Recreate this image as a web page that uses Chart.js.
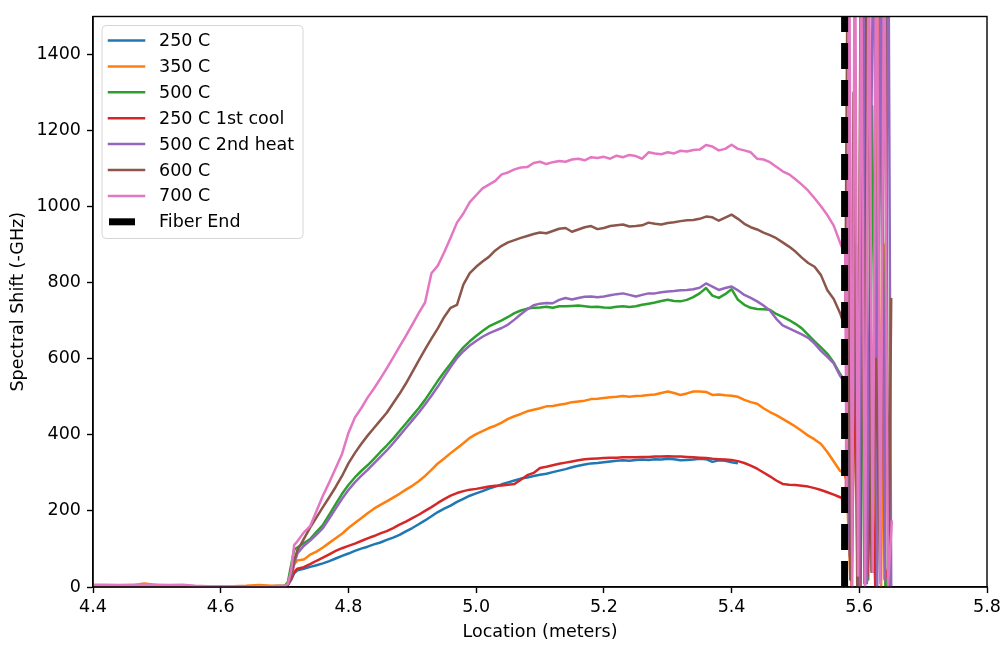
<!DOCTYPE html>
<html lang="en">
<head>
  <meta charset="UTF-8" />
  <title>Spectral Shift vs Location</title>
  <script src="https://cdn.jsdelivr.net/npm/chart.js"></script>
  <style>
    body { margin: 0; background: #fff; }
    canvas { display: block; }
  </style>
</head>
<body>
  <canvas id="shiftChart" width="1006" height="647"></canvas>

<script>
  // fiber location (m)
  const loc = [4.40, 4.42, 4.44, 4.46, 4.48, 4.50, 4.52, 4.54, 4.56, 4.58, 4.60, 4.62, 4.64, 4.66, 4.68, 4.70, 4.705, 4.71, 4.715,
    4.72, 4.73, 4.74, 4.75, 4.76, 4.77, 4.78, 4.79,
    4.80, 4.81, 4.82, 4.83, 4.84, 4.85, 4.86, 4.87, 4.88, 4.89,
    4.90, 4.91, 4.92, 4.93, 4.94, 4.95, 4.96, 4.97, 4.98, 4.99,
    5.00, 5.01, 5.02, 5.03, 5.04, 5.05, 5.06, 5.07, 5.08, 5.09,
    5.10, 5.11, 5.12, 5.13, 5.14, 5.15, 5.16, 5.17, 5.18, 5.19,
    5.20, 5.21, 5.22, 5.23, 5.24, 5.25, 5.26, 5.27, 5.28, 5.29,
    5.30, 5.31, 5.32, 5.33, 5.34, 5.35, 5.36, 5.37, 5.38, 5.39,
    5.40, 5.41, 5.42, 5.43, 5.44, 5.45, 5.46, 5.47, 5.48, 5.49,
    5.50, 5.51, 5.52, 5.53, 5.54, 5.55, 5.56, 5.57, 5.576];

  const s250 = [2, 2, 1, 2, 2, 2, 1, 2, 1, 1, 1, 1, 1, 2, 2, 2, 5, 18, 36,
    44, 48, 53, 57, 62, 68, 75, 82,
    88, 95, 101, 106, 112, 117, 124, 130, 137, 146,
    155, 165, 175, 186, 197, 206, 214, 224, 232, 240,
    246, 252, 259, 264, 270, 275, 280, 285, 288, 292,
    295, 298, 302, 306, 310, 315, 319, 322, 325, 326,
    328, 330, 332, 333, 332, 334, 335, 334, 336, 335,
    337, 336, 333, 334, 335, 337, 336, 329, 333, 332,
    328, 325, null, null, null, null, null, null, null, null,
    null, null, null, null, null, null, null, null, null];

  const s350 = [3, 2, 3, 4, 9, 5, 3, 2, 2, 1, 1, 2, 3, 5, 3, 4, 6, 25, 60,
    70, 72, 85, 93, 104, 116, 128, 140,
    155, 168, 181, 194, 206, 216, 225, 235, 245, 256,
    266, 278, 292, 308, 325, 338, 352, 365, 378, 392,
    402, 410, 418, 424, 432, 442, 449, 455, 462, 466,
    470, 475, 476, 479, 482, 486, 488, 490, 494, 495,
    497, 499, 500, 502, 500, 502, 503, 505, 506, 510,
    514, 510, 505, 509, 514, 514, 513, 505, 506, 504,
    503, 500, 492, 486, 482, 470, 460, 452, 442, 432,
    422, 410, 398, 388, 376, 355, 330, 305, 300];

  const s500 = [2, 2, 1, 2, 2, 2, 2, 2, 1, 1, 1, 1, 1, 2, 2, 3, 12, 55, 98,
    104, 115, 126, 145, 163, 190, 218, 245,
    268, 288, 305, 320, 337, 355, 372, 390, 410, 430,
    450, 470, 492, 517, 542, 565, 587, 610, 630, 646,
    660, 673, 685, 693, 701, 710, 720, 727, 732, 734,
    735, 737, 734, 738, 738, 739, 740, 738, 736, 737,
    735, 734, 737, 738, 736, 738, 742, 745, 748, 752,
    755, 752, 751, 755, 762, 772, 786, 766, 760, 770,
    783, 755, 742, 734, 731, 730, 729, 718, 710, 702,
    692, 680, 663, 646, 630, 613, 590, 560, 545];

  const s250cool = [2, 2, 1, 2, 1, 2, 2, 1, 1, 1, 1, 1, 2, 2, 2, 2, 5, 20, 40,
    48, 52, 60, 69, 77, 86, 95, 102,
    108, 114, 121, 128, 134, 141, 147, 155, 164, 172,
    181, 190, 200, 210, 221, 231, 240, 247, 252, 256,
    258, 261, 264, 266, 267, 269, 271, 282, 294, 300,
    313, 316, 320, 324, 327, 330, 333, 336, 337, 338,
    339, 340, 340, 341, 341, 341, 342, 342, 343, 343,
    344, 343, 343, 342, 341, 340, 339, 337, 336, 335,
    334, 331, 326, 319, 311, 301, 291, 280, 271, 269,
    268, 266, 264, 260, 255, 249, 243, 236, 232];

  const s500heat = [2, 2, 1, 2, 2, 2, 2, 2, 1, 1, 1, 1, 1, 2, 2, 2, 6, 28, 60,
    88, 108, 122, 138, 155, 180, 206, 232,
    255, 275, 292, 308, 325, 342, 359, 378, 398, 418,
    438, 458, 480, 503, 527, 553, 578, 602, 620, 635,
    647, 658, 667, 674, 681, 690, 703, 717, 730, 741,
    745, 747, 746, 755, 760, 756, 760, 763, 764, 762,
    764, 767, 770, 772, 768, 764, 768, 772, 772, 775,
    777, 778, 780, 781, 783, 787, 798, 790, 781, 786,
    790, 780, 768, 760, 751, 740, 727, 705, 688, 680,
    672, 664, 655, 640, 621, 605, 588, 555, 540];

  const s600 = [2, 2, 2, 2, 2, 2, 2, 2, 1, 1, 1, 1, 1, 2, 2, 2, 6, 30, 70,
    96, 126, 156, 183, 210, 236, 263, 292,
    325, 352, 376, 398, 418, 438, 458, 483, 508, 535,
    565, 595, 625, 653, 680, 710, 734, 742, 795, 825,
    842, 856, 868, 885, 897, 906, 912, 918, 923, 928,
    932, 930, 936, 942, 944, 934, 940, 946, 949, 941,
    944, 949, 951, 953, 948, 949, 951, 958, 955, 953,
    957, 959, 962, 964, 965, 968, 974, 972, 963, 971,
    979, 968, 955, 946, 940, 932, 925, 917, 906, 895,
    882, 866, 852, 842, 820, 780, 757, 720, 690];

  const s700 = [6, 6, 5, 6, 5, 6, 5, 6, 3, 2, 2, 2, 1, 2, 2, 3, 8, 40, 110,
    120, 143, 160, 200, 240, 275, 312, 350,
    405, 445, 470, 498, 522, 548, 575, 603, 632, 660,
    690, 720, 748, 825, 845, 880, 918, 958, 982, 1012,
    1030, 1048, 1058, 1068, 1085, 1090, 1098, 1103, 1104, 1115,
    1118, 1112, 1117, 1120, 1118, 1124, 1126, 1122, 1130, 1128,
    1131, 1126, 1134, 1130, 1136, 1133, 1126, 1143, 1140, 1138,
    1143, 1140, 1147, 1145, 1149, 1150, 1162, 1158, 1148, 1152,
    1163, 1152, 1148, 1143, 1126, 1124, 1117, 1105, 1093, 1085,
    1072, 1058, 1042, 1022, 1001, 978, 950, 905, 880];

  // past the fiber end the readings are garbage (each trace its own samples)
  const n350x = [5.580, 5.586, 5.592, 5.598, 5.604, 5.610, 5.616, 5.622, 5.628, 5.634, 5.640, 5.646];
  const n350y = [280, 20, 620, -40, 1650, 10, 420, 40, 1700, -20, 900, 60];
  const n500x = [5.581, 5.588, 5.595, 5.602, 5.609, 5.614, 5.620, 5.627, 5.634, 5.641, 5.648];
  const n500y = [520, 30, 900, -40, 1550, 20, 1265, 80, 1700, -30, 90];
  const n250coolx = [5.579, 5.582, 5.588, 5.594, 5.601, 5.607, 5.613, 5.619, 5.626, 5.633, 5.640, 5.647];
  const n250cooly = [232, 1230, 0, 700, -20, 1700, 30, 380, -60, 1600, 20, 60];
  const n500heatx = [5.580, 5.585, 5.592, 5.600, 5.606, 5.612, 5.617, 5.623, 5.628, 5.634, 5.640, 5.645, 5.650];
  const n500heaty = [530, 80, 700, -20, 1800, 10, 900, 1900, -30, 1800, 20, 2000, -10];
  const n600x = [5.578, 5.581, 5.586, 5.591, 5.597, 5.603, 5.608, 5.613, 5.619, 5.626, 5.633, 5.640, 5.646, 5.650];
  const n600y = [690, 1470, 20, 1300, -40, 1900, 10, 2000, 40, 600, 20, 1700, 0, 760];
  const n700x = [5.578, 5.580, 5.584, 5.589, 5.593, 5.598, 5.603, 5.609, 5.615, 5.621, 5.627, 5.633, 5.639, 5.645, 5.651];
  const n700y = [880, 250, 1800, 0, 1900, 30, 1700, -20, 1800, 40, 1900, 10, 1750, 0, 175];

  const fiberEnd = 5.577;

  const xTicks = [4.4, 4.6, 4.8, 5.0, 5.2, 5.4, 5.6, 5.8];
  const yTicks = [0, 200, 400, 600, 800, 1000, 1200, 1400];

  const FONT = "'DejaVu Sans', sans-serif";

  function pts(vals, nx, ny) {
    const p = loc.map((x, i) => ({ x: x, y: vals[i] }));
    if (nx) nx.forEach((x, i) => p.push({ x: x, y: ny[i] }));
    return p;
  }

  function series(label, color, data, order) {
    return {
      label: label,
      data: data,
      borderColor: color,
      backgroundColor: color,
      borderWidth: 2.5,
      borderJoinStyle: 'round',
      pointRadius: 0,
      tension: 0,
      order: order
    };
  }

  // matplotlib-ish frame around the axes
  const frame = {
    id: 'frame',
    afterDatasetsDraw(chart) {
      const a = chart.chartArea, ctx = chart.ctx;
      ctx.save();
      ctx.strokeStyle = '#000';
      ctx.lineWidth = 1.4;
      ctx.strokeRect(a.left, a.top, a.right - a.left, a.bottom - a.top);
      ctx.restore();
    }
  };

  // legend box in upper left corner
  const legendBox = {
    id: 'legendBox',
    afterDraw(chart) {
      const a = chart.chartArea, ctx = chart.ctx;
      const x0 = a.left + 9, y0 = a.top + 9, w = 201, h = 213, r = 4;
      ctx.save();
      ctx.beginPath();
      ctx.roundRect(x0, y0, w, h, r);
      ctx.fillStyle = 'rgba(255,255,255,0.8)';
      ctx.fill();
      ctx.strokeStyle = '#d6d6d6';
      ctx.lineWidth = 1;
      ctx.stroke();
      ctx.font = '17.5px ' + FONT;
      ctx.textBaseline = 'middle';
      ctx.fillStyle = '#000';
      chart.data.datasets.forEach((ds, i) => {
        const y = y0 + 15 + i * 25.9;
        ctx.beginPath();
        ctx.strokeStyle = ds.borderColor;
        ctx.lineWidth = ds.borderWidth;
        if (ds.borderDash) {
          ctx.lineCap = 'butt';
          ctx.moveTo(x0 + 7, y);
          ctx.lineTo(x0 + 33, y);
        } else {
          ctx.lineCap = 'square';
          ctx.moveTo(x0 + 7, y);
          ctx.lineTo(x0 + 42, y);
        }
        ctx.stroke();
        ctx.fillText(ds.label, x0 + 57, y + 1);
      });
      ctx.restore();
    }
  };

  const ctx = document.getElementById('shiftChart').getContext('2d');
  new Chart(ctx, {
    type: 'line',
    data: {
      datasets: [
        series('250 C', '#1f77b4', pts(s250), 8),
        series('350 C', '#ff7f0e', pts(s350, n350x, n350y), 7),
        series('500 C', '#2ca02c', pts(s500, n500x, n500y), 6),
        series('250 C 1st cool', '#d62728', pts(s250cool, n250coolx, n250cooly), 5),
        series('500 C 2nd heat', '#9467bd', pts(s500heat, n500heatx, n500heaty), 4),
        series('600 C', '#8c564b', pts(s600, n600x, n600y), 3),
        series('700 C', '#e377c2', pts(s700, n700x, n700y), 2),
        {
          label: 'Fiber End',
          data: [{ x: fiberEnd, y: 0 }, { x: fiberEnd, y: 1500 }],
          borderColor: '#000',
          backgroundColor: '#000',
          borderWidth: 7,
          borderDash: [26, 11],
          borderCapStyle: 'butt',
          pointRadius: 0,
          order: 1
        }
      ]
    },
    options: {
      responsive: false,
      animation: false,
      devicePixelRatio: 1,
      layout: { padding: { left: 0, right: 19, top: 7, bottom: 0 } },
      plugins: {
        legend: { display: false },
        tooltip: { enabled: false }
      },
      scales: {
        x: {
          type: 'linear',
          min: 4.4,
          max: 5.8,
          afterBuildTicks: s => { s.ticks = xTicks.map(v => ({ value: v })); },
          afterFit: s => { s.height = 60; },
          border: { display: true, color: '#000', width: 1.4 },
          grid: { display: true, drawOnChartArea: false, drawTicks: true, tickLength: 6, tickColor: '#000', tickWidth: 1.4 },
          ticks: {
            color: '#000',
            padding: 4,
            maxRotation: 0,
            font: { family: FONT, size: 17.5 },
            callback: v => v.toFixed(1)
          },
          title: {
            display: true,
            text: 'Location (meters)',
            color: '#000',
            font: { family: FONT, size: 17.5 },
            padding: { top: 4, bottom: 4 }
          }
        },
        y: {
          min: 0,
          max: 1500,
          afterBuildTicks: s => { s.ticks = yTicks.map(v => ({ value: v })); },
          afterFit: s => { s.width = 93; },
          border: { display: true, color: '#000', width: 1.4 },
          grid: { display: true, drawOnChartArea: false, drawTicks: true, tickLength: 6, tickColor: '#000', tickWidth: 1.4 },
          ticks: {
            color: '#000',
            padding: 6,
            font: { family: FONT, size: 17.5 },
            callback: v => String(v)
          },
          title: {
            display: true,
            text: 'Spectral Shift (-GHz)',
            color: '#000',
            font: { family: FONT, size: 17.5 },
            padding: { top: 8, bottom: 4 }
          }
        }
      }
    },
    plugins: [frame, legendBox]
  });
</script>
</body>
</html>
